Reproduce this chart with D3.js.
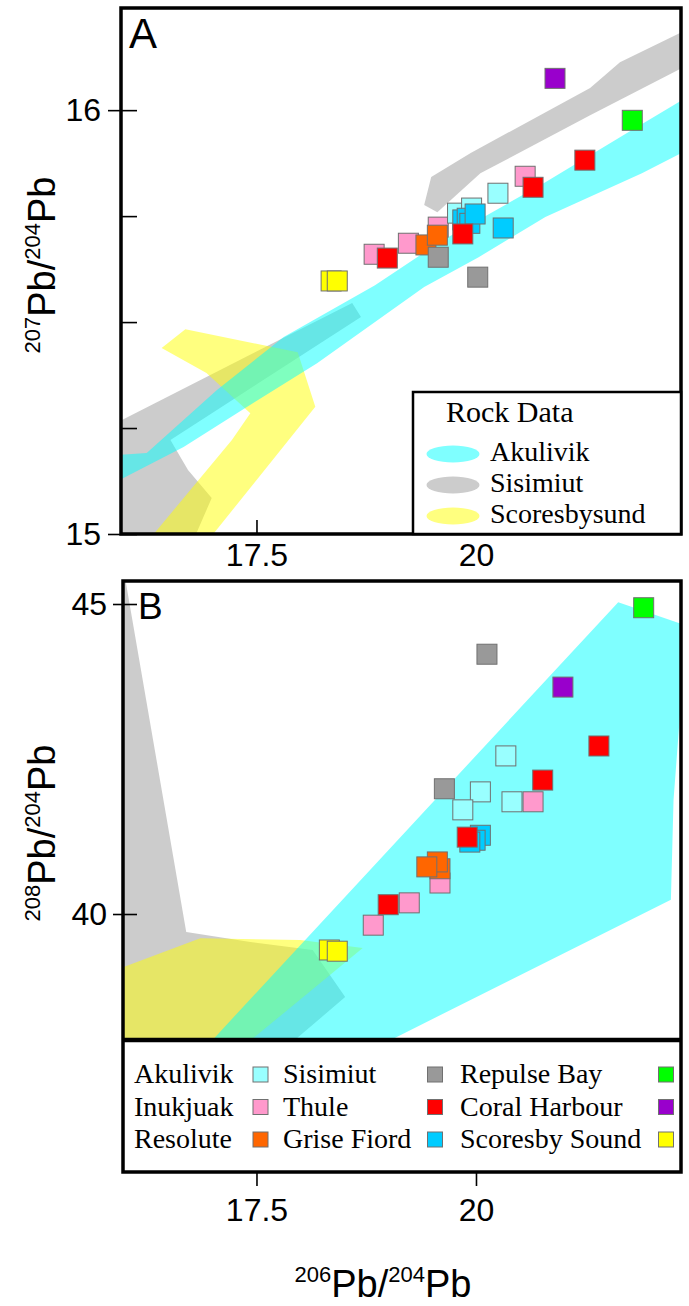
<!DOCTYPE html>
<html>
<head>
<meta charset="utf-8">
<script src="https://cdn.jsdelivr.net/npm/d3@7"></script>
<style>
    body { margin: 0; background: #fff; }
</style>
</head>
<body>
<div id="chart"></div>
<script>
// ——— DATA —————————————————————————————————————————————————————————
const sites = ["Akulivik", "Inukjuak", "Resolute", "Sisimiut", "Thule", "Grise Fiord", "Repulse Bay", "Coral Harbour", "Scoresby Sound"];
const siteColors = ["#99ffff", "#ff99cc", "#ff6600", "#999999", "#ff0000", "#00ccff", "#00ff00", "#9900cc", "#ffff00"];

const rockNames = ["Akulivik", "Sisimiut", "Scoresbysund"];
const rockColors = ["#00ffff", "#999999", "#ffff00"];

const xTicks = [17.5, 20];
const yTicksA = [15, 15.25, 15.5, 15.75, 16];
const yLabelsA = [15, 16];
const yTicksB = [40, 45];

// rock fields: [206Pb/204Pb, 207Pb/204Pb]
const akulivikA = [[15.9, 15.186], [16.25, 15.191], [17.05, 15.34], [17.81, 15.465], [18.85, 15.587], [19.62, 15.693],
    [20.79, 15.83], [21.72, 15.946], [22.4, 16.03], [22.4, 15.905], [21.89, 15.851], [20.79, 15.748], [20.03, 15.653],
    [19.41, 15.583], [18.19, 15.403], [17.3, 15.288], [16.67, 15.205], [15.9, 15.123]];
const sisimiutA1 = [[19.41, 15.776], [19.49, 15.842], [19.94, 15.899], [21.3, 16.052], [21.64, 16.113], [22.4, 16.19],
    [22.4, 16.105], [21.3, 15.988], [20.05, 15.851], [19.56, 15.759]];
const sisimiutA2 = [[15.9, 14.98], [15.9, 15.262], [18.59, 15.545], [18.69, 15.512], [16.52, 15.222], [16.72, 15.151],
    [16.99, 15.085], [16.77, 14.98]];
const scoresbyA = [[16.42, 15.439], [16.69, 15.483], [17.97, 15.429], [18.17, 15.3], [16.93, 14.98], [16.25, 14.98],
    [17.22, 15.222], [17.43, 15.285], [16.93, 15.38]];

// rock fields: [206Pb/204Pb, 208Pb/204Pb]
const akulivikB = [[21.62, 45.03], [22.4, 44.65], [22.25, 41.84], [22.22, 40.23], [19.03, 37.97], [17.0, 37.97]];
const sisimiutB = [[15.9, 45.45], [16.0, 45.45], [16.7, 39.71], [17.43, 39.55], [18.14, 39.42], [18.51, 38.66],
    [17.88, 37.9], [15.9, 37.9]];
const scoresbyB = [[15.9, 39.1], [16.86, 39.61], [18.0, 39.58], [18.71, 39.45], [17.38, 37.9], [15.9, 37.9]];

// samples: [site, 206Pb/204Pb, 207Pb/204Pb]
const samplesA = [
    ["Inukjuak", 19.57, 15.724], ["Inukjuak", 19.23, 15.686], ["Inukjuak", 18.84, 15.66], ["Inukjuak", 20.56, 15.844],
    ["Akulivik", 19.79, 15.757], ["Akulivik", 19.95, 15.769], ["Akulivik", 20.25, 15.804],
    ["Grise Fiord", 19.85, 15.741], ["Grise Fiord", 19.9, 15.745], ["Grise Fiord", 19.93, 15.733],
    ["Grise Fiord", 19.99, 15.755], ["Grise Fiord", 20.31, 15.722],
    ["Resolute", 19.43, 15.682], ["Resolute", 19.56, 15.705],
    ["Sisimiut", 19.57, 15.653], ["Sisimiut", 20.02, 15.606],
    ["Thule", 19.85, 15.708], ["Thule", 18.99, 15.651], ["Thule", 20.65, 15.818], ["Thule", 21.24, 15.882],
    ["Repulse Bay", 21.78, 15.976],
    ["Coral Harbour", 20.9, 16.075],
    ["Scoresby Sound", 18.35, 15.597], ["Scoresby Sound", 18.42, 15.597]
];

// samples: [site, 206Pb/204Pb, 208Pb/204Pb]
const samplesB = [
    ["Akulivik", 20.34, 42.55], ["Akulivik", 20.05, 41.97], ["Akulivik", 20.41, 41.81], ["Akulivik", 19.85, 41.68],
    ["Inukjuak", 20.65, 41.81], ["Inukjuak", 19.59, 40.5], ["Inukjuak", 19.24, 40.18], ["Inukjuak", 18.83, 39.82],
    ["Grise Fiord", 20.05, 41.27], ["Grise Fiord", 19.99, 41.19], ["Grise Fiord", 19.93, 41.16],
    ["Resolute", 19.59, 40.73], ["Resolute", 19.56, 40.84], ["Resolute", 19.44, 40.76],
    ["Sisimiut", 20.125, 44.19], ["Sisimiut", 19.64, 42.02],
    ["Thule", 21.4, 42.71], ["Thule", 20.76, 42.16], ["Thule", 19.9, 41.24], ["Thule", 19.0, 40.15],
    ["Repulse Bay", 21.91, 44.94],
    ["Coral Harbour", 20.99, 43.66],
    ["Scoresby Sound", 18.33, 39.42], ["Scoresby Sound", 18.42, 39.4]
];

// ——— SETUP ————————————————————————————————————————————————————————
const width = 689;
const height = 1306;
const sans = "'Liberation Sans', Arial, sans-serif";
const serif = "'Liberation Serif', 'Times New Roman', serif";

const svg = d3.select("#chart").append("svg")
    .attr("width", width)
    .attr("height", height);

const x = d3.scaleLinear().domain([15.957, 22.335]).range([121, 681]);
const yA = d3.scaleLinear().domain([15, 16.241]).range([534, 8]);
const yB = d3.scaleLinear().domain([37.968, 45.371]).range([1040, 581]);

const siteColor = d3.scaleOrdinal().domain(sites).range(siteColors);
const rockColor = d3.scaleOrdinal().domain(rockNames).range(rockColors);

const defs = svg.append("defs");
defs.append("clipPath").attr("id", "clipA").append("rect")
    .attr("x", 121).attr("y", 8).attr("width", 560).attr("height", 526);
defs.append("clipPath").attr("id", "clipB").append("rect")
    .attr("x", 123).attr("y", 581).attr("width", 558).attr("height", 459);

// ——— PANELS ———————————————————————————————————————————————————————
function drawPanel(clip, yScale, fields, samples) {
    const g = svg.append("g").attr("clip-path", `url(#${clip})`);
    const line = d3.line()
        .x((d) => x(d[0]))
        .y((d) => yScale(d[1]))
        .curve(d3.curveLinearClosed);

    g.selectAll("path.field")
        .data(fields)
        .enter()
        .append("path")
        .attr("class", "field")
        .attr("d", (d) => line(d.pts))
        .attr("fill", (d) => rockColor(d.rock))
        .attr("fill-opacity", 0.5);

    const s = 20;
    g.selectAll("rect.sample")
        .data(samples)
        .enter()
        .append("rect")
        .attr("class", "sample")
        .attr("x", (d) => x(d[1]) - s / 2)
        .attr("y", (d) => yScale(d[2]) - s / 2)
        .attr("width", s)
        .attr("height", s)
        .attr("fill", (d) => siteColor(d[0]))
        .attr("stroke", "#707070")
        .attr("stroke-width", 1);
}

drawPanel("clipA", yA, [
    { rock: "Sisimiut", pts: sisimiutA1 },
    { rock: "Sisimiut", pts: sisimiutA2 },
    { rock: "Scoresbysund", pts: scoresbyA },
    { rock: "Akulivik", pts: akulivikA }
], samplesA);

drawPanel("clipB", yB, [
    { rock: "Sisimiut", pts: sisimiutB },
    { rock: "Scoresbysund", pts: scoresbyB },
    { rock: "Akulivik", pts: akulivikB }
], samplesB);

// ——— AXES —————————————————————————————————————————————————————————
function styleAxis(g) {
    g.select(".domain").remove();
    g.selectAll("text")
        .attr("fill", "#000")
        .style("font-family", sans)
        .style("font-size", "32px");
    g.selectAll("line").attr("stroke", "#000").attr("stroke-width", 1.6);
}

svg.append("g")
    .attr("transform", "translate(121,0)")
    .call(d3.axisLeft(yA).tickValues(yTicksA).tickSize(0).tickPadding(20)
        .tickFormat((d) => yLabelsA.includes(d) ? d : ""))
    .call(styleAxis)
    .call((g) => g.selectAll(".tick line")
        .attr("x1", (d) => yLabelsA.includes(d) ? -13 : 0)
        .attr("x2", 16));

svg.append("g")
    .attr("transform", "translate(0,534)")
    .call(d3.axisBottom(x).tickValues(xTicks).tickSize(-14).tickPadding(9).tickFormat(d3.format("~")))
    .call(styleAxis);

svg.append("g")
    .attr("transform", "translate(123,0)")
    .call(d3.axisLeft(yB).tickValues(yTicksB).tickSize(0).tickPadding(16))
    .call(styleAxis)
    .call((g) => g.selectAll(".tick line").attr("x1", -10).attr("x2", 14));

svg.append("g")
    .attr("transform", "translate(0,1172)")
    .call(d3.axisBottom(x).tickValues(xTicks).tickSize(14).tickPadding(12).tickFormat(d3.format("~")))
    .call(styleAxis);

// ——— FRAMES ———————————————————————————————————————————————————————
svg.append("rect")
    .attr("x", 121).attr("y", 8).attr("width", 560).attr("height", 526)
    .attr("fill", "none").attr("stroke", "#000").attr("stroke-width", 3.5);

svg.append("rect")
    .attr("x", 123).attr("y", 581).attr("width", 558).attr("height", 591)
    .attr("fill", "none").attr("stroke", "#000").attr("stroke-width", 3.5);

svg.append("line")
    .attr("x1", 123).attr("x2", 681).attr("y1", 1040).attr("y2", 1040)
    .attr("stroke", "#000").attr("stroke-width", 4.5);

svg.append("text").attr("x", 129).attr("y", 48)
    .style("font-family", sans).style("font-size", "42px").text("A");
svg.append("text").attr("x", 138).attr("y", 619)
    .style("font-family", sans).style("font-size", "37px").text("B");

// ——— LEGEND A —————————————————————————————————————————————————————
const legA = svg.append("g");
legA.append("rect")
    .attr("x", 413).attr("y", 392).attr("width", 268).attr("height", 142)
    .attr("fill", "#fff").attr("stroke", "#000").attr("stroke-width", 2.5);
legA.append("text")
    .attr("x", 446).attr("y", 422)
    .style("font-family", serif).style("font-size", "30px")
    .text("Rock Data");

const legItems = legA.selectAll("g.item")
    .data(rockNames)
    .enter()
    .append("g")
    .attr("class", "item")
    .attr("transform", (d, i) => `translate(0,${461 + i * 31})`);
legItems.append("ellipse")
    .attr("cx", 453).attr("cy", -7).attr("rx", 26.5).attr("ry", 8.5)
    .attr("fill", (d) => rockColor(d)).attr("fill-opacity", 0.5);
legItems.append("text")
    .attr("x", 490).attr("y", 0)
    .style("font-family", serif).style("font-size", "28px")
    .text((d) => d);

// ——— LEGEND B —————————————————————————————————————————————————————
const colLabelX = [134, 283, 460];
const colSquareX = [260.5, 435, 666];

const legB = svg.selectAll("g.site")
    .data(sites)
    .enter()
    .append("g")
    .attr("class", "site")
    .attr("transform", (d, i) => `translate(0,${1083 + (i % 3) * 32.5})`);
legB.append("text")
    .attr("x", (d, i) => colLabelX[Math.floor(i / 3)])
    .attr("y", 0)
    .style("font-family", serif).style("font-size", "28px")
    .text((d) => d);
legB.append("rect")
    .attr("x", (d, i) => colSquareX[Math.floor(i / 3)] - 7.5)
    .attr("y", -16)
    .attr("width", 15).attr("height", 15)
    .attr("fill", (d) => siteColor(d))
    .attr("stroke", "#707070").attr("stroke-width", 1);

// ——— TITLES ———————————————————————————————————————————————————————
function isoTitle(g, top, bottom) {
    const t = g.append("text")
        .attr("text-anchor", "middle")
        .style("font-family", sans);
    t.append("tspan").style("font-size", "22px").attr("dy", -15).text(top);
    t.append("tspan").style("font-size", "38px").attr("dy", 15).text("Pb/");
    t.append("tspan").style("font-size", "22px").attr("dy", -15).text(bottom);
    t.append("tspan").style("font-size", "38px").attr("dy", 15).text("Pb");
}

isoTitle(svg.append("g").attr("transform", "translate(55,265) rotate(-90)"), "207", "204");
isoTitle(svg.append("g").attr("transform", "translate(55,833) rotate(-90)"), "208", "204");
isoTitle(svg.append("g").attr("transform", "translate(383,1297)"), "206", "204");
</script>
</body>
</html>
